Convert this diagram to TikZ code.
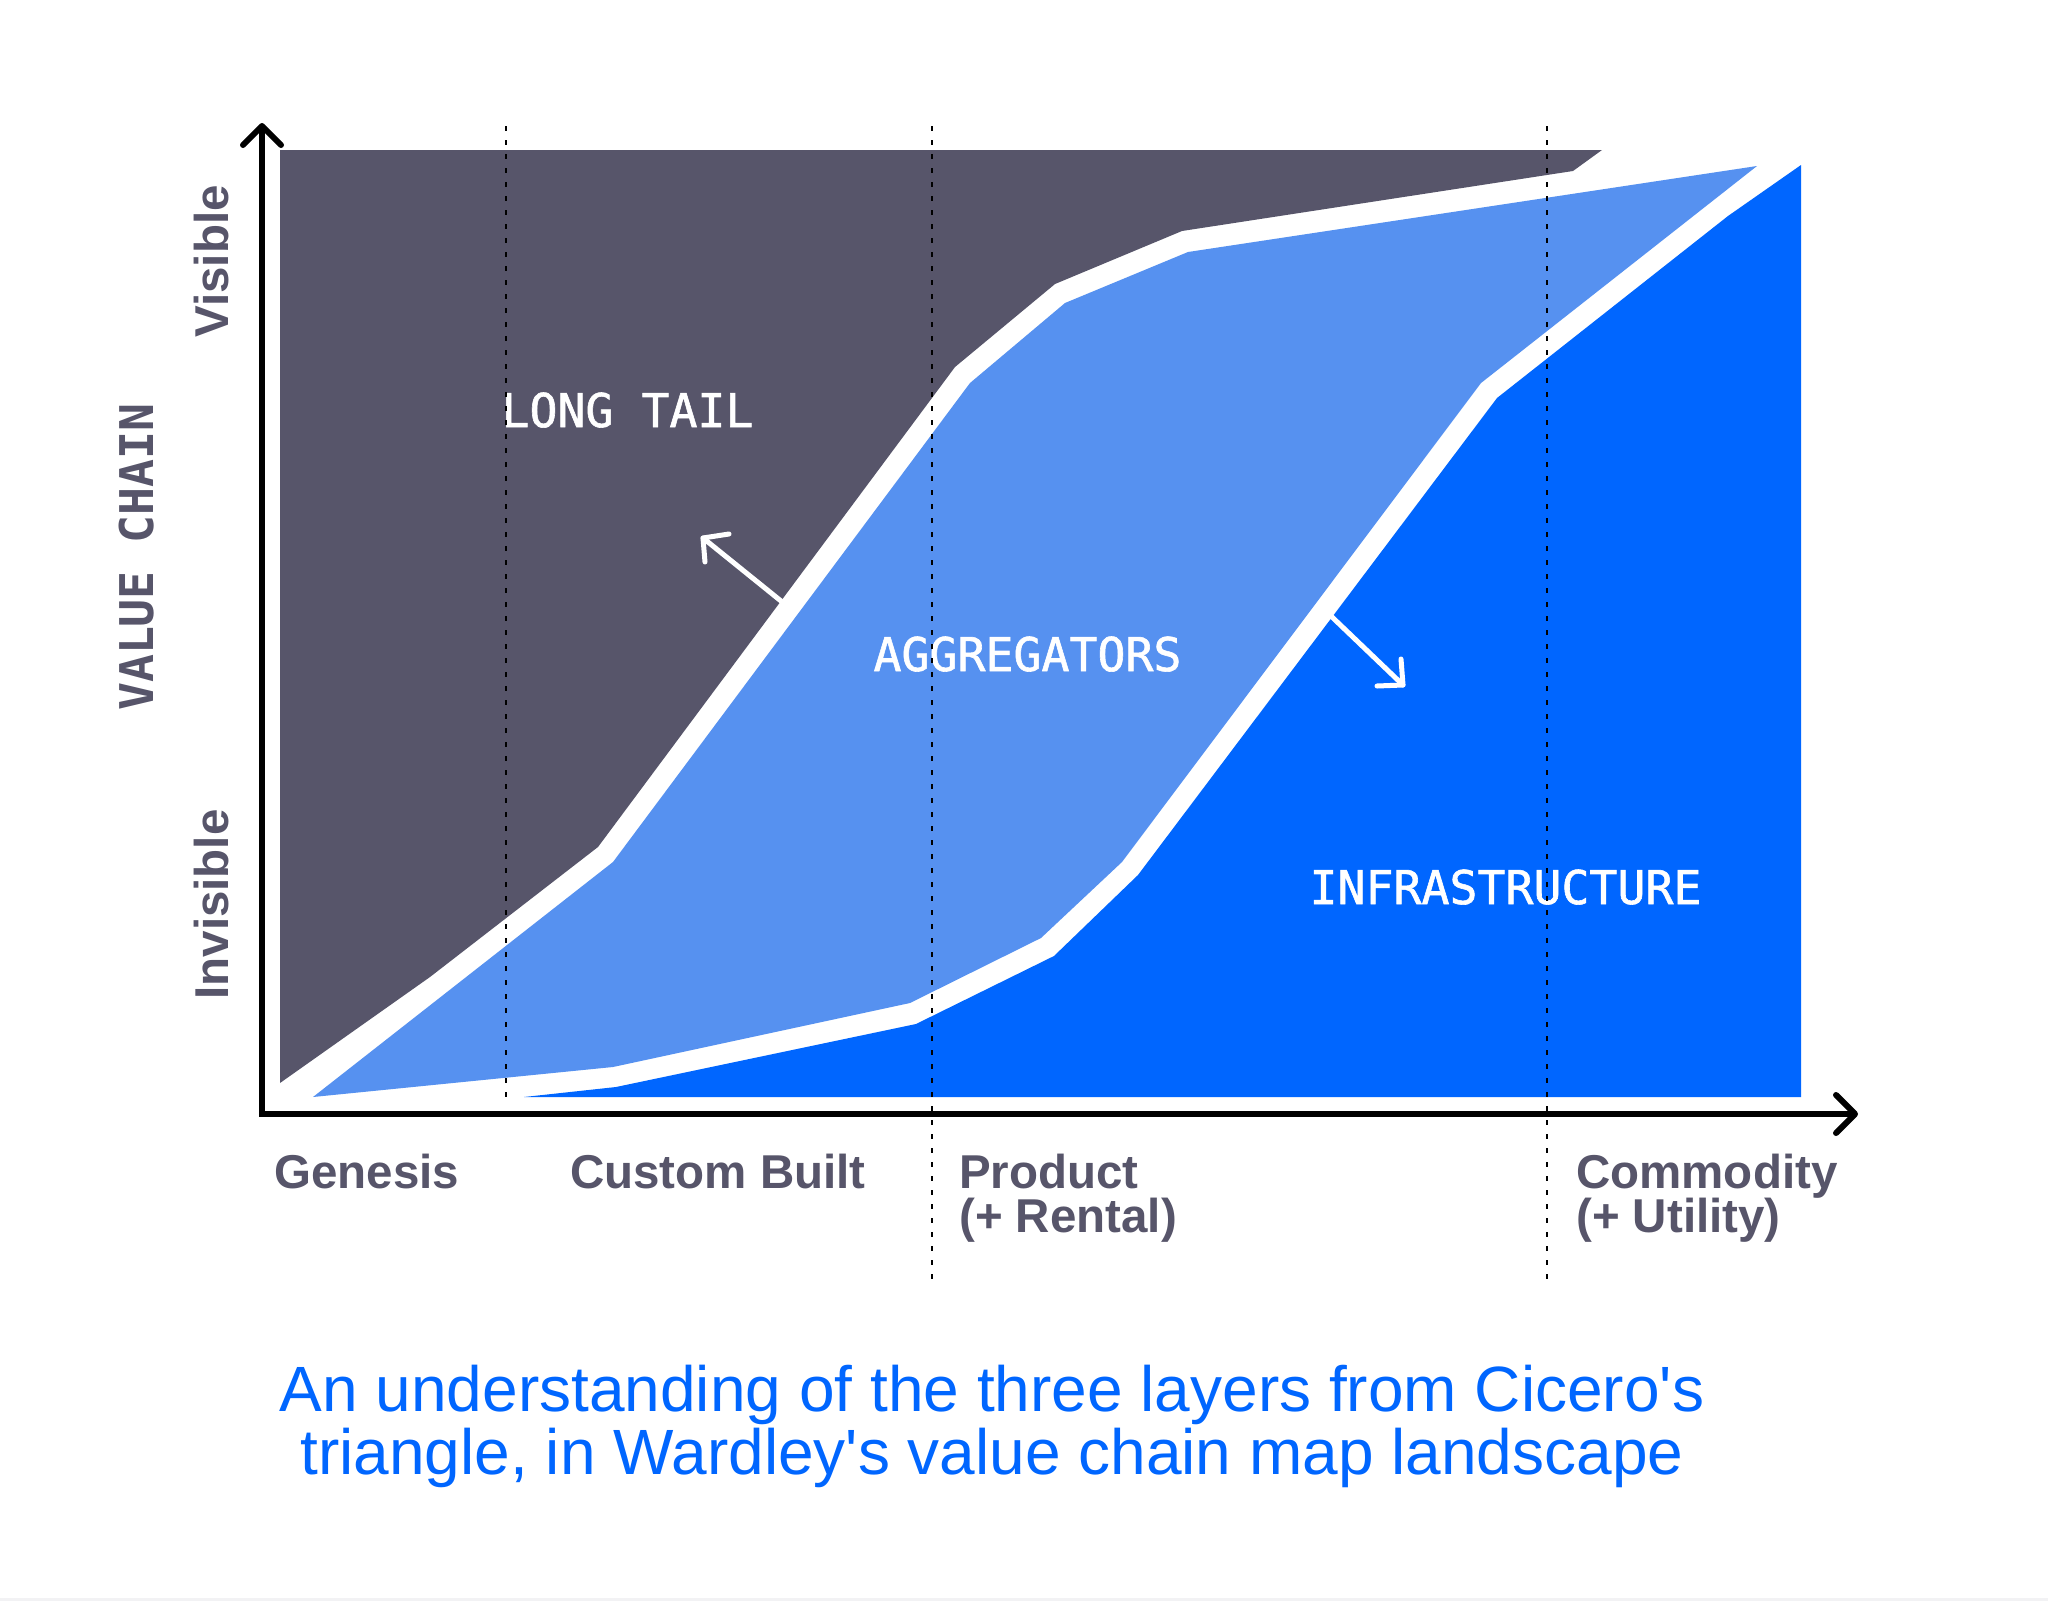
\documentclass[tikz,border=0pt]{standalone}
\usepackage{fontspec}
\newfontfamily\mylab{Liberation Sans}
\newfontfamily\mymono{DejaVu Sans Mono}
\newfontfamily\mymonomed{DejaVu Sans Mono}[FakeBold=1.3]
\newfontfamily\mycap{Liberation Sans}
\definecolor{tailgrey}{RGB}{87,85,106}
\definecolor{aggblue}{RGB}{86,145,240}
\definecolor{infblue}{RGB}{0,102,255}
\definecolor{labgrey}{RGB}{87,85,106}
\definecolor{capblue}{RGB}{0,102,255}
\definecolor{edgegrey}{RGB}{242,242,244}
\begin{document}
\begin{tikzpicture}[x=1pt,y=-1pt,
  axisline/.style={line width=6pt, black, line join=miter},
  axishead/.style={line width=6pt, black, line cap=round, line join=round},
  guide/.style={line width=2pt, black, dash pattern=on 5pt off 9pt},
  warrow/.style={line width=5pt, white, line cap=round, line join=round},
  xlab/.style={anchor=base west, inner sep=0pt, text=labgrey, font=\mylab\bfseries\fontsize{47.5}{47.5}\selectfont},
  ylab/.style={anchor=base, inner sep=0pt, rotate=90, text=labgrey, font=\mylab\bfseries\fontsize{47.5}{47.5}\selectfont},
  vclab/.style={anchor=base, inner sep=0pt, rotate=90, text=labgrey, font=\mymono\bfseries\fontsize{46.5}{46.5}\selectfont},
  region/.style={anchor=base, inner sep=0pt, text=white, font=\mymonomed\fontsize{46.5}{46.5}\selectfont},
  captext/.style={anchor=base, inner sep=0pt, text=capblue, font=\mycap\fontsize{64}{64}\selectfont}
]
\useasboundingbox (0,0) rectangle (2048,1601);
\fill[white] (0,0) rectangle (2048,1601);
\fill[edgegrey] (0,1598) rectangle (2048,1601);

% regions
\fill[tailgrey] (280,150) -- (1602,150) -- (1573,171) -- (1182,231) -- (1055,284)
  -- (955,367) -- (598,847) -- (430,977) -- (280,1083) -- cycle;
\fill[aggblue] (1757,166) -- (1481,383) -- (1122,862) -- (1041,938) -- (910,1003)
  -- (613,1067) -- (313,1097) -- (613,862) -- (970,383) -- (1065,303) -- (1188,252) -- cycle;
\fill[infblue] (1801,165) -- (1801,1097) -- (524,1097) -- (616,1087) -- (916,1024)
  -- (1054,956) -- (1138,875) -- (1497,398) -- (1728,216) -- cycle;

% region labels
\node[region] (longtail) at (627.5,427) {LONG TAIL};
\node[region] (aggr) at (1027.5,671) {AGGREGATORS};
\node[region] (infra) at (1505.5,904) {INFRASTRUCTURE};

% white arrows
\coordinate (s1) at (781,601);
\coordinate (t1) at (703,538);
\coordinate (a1) at (729,534);
\coordinate (b1) at (705,562);
\draw[warrow] (s1) -- (t1);
\draw[warrow] (a1) -- (t1) -- (b1);
\coordinate (s2) at (1332,617);
\coordinate (t2) at (1403,685);
\coordinate (a2) at (1401,659);
\coordinate (b2) at (1377,686);
\draw[warrow] (s2) -- (t2);
\draw[warrow] (a2) -- (t2) -- (b2);

% axes
\coordinate (origin) at (262,1114);
\coordinate (ytip) at (262,126);
\coordinate (xtip) at (1855,1114);
\draw[axisline] (ytip) -- (origin) -- (xtip);
\draw[axishead] (243,145) -- (ytip) -- (281,145);
\draw[axishead] (1836,1095) -- (xtip) -- (1836,1133);

% guide lines
\coordinate (g1t) at (506,126);
\coordinate (g1b) at (506,1103);
\coordinate (g2t) at (932,126);
\coordinate (g2b) at (932,1287);
\coordinate (g3t) at (1547,126);
\coordinate (g3b) at (1547,1287);
\draw[guide] (g1t) -- (g1b);
\draw[guide] (g2t) -- (g2b);
\draw[guide] (g3t) -- (g3b);

% axis labels
\node[ylab] (visible) at (228,261.5) {Visible};
\node[ylab] (invisible) at (228,904.5) {Invisible};
\node[vclab] (valuechain) at (153,557) {VALUE CHAIN};

\node[xlab] (genesis) at (274,1188) {Genesis};
\node[xlab] (custom) at (570,1188) {Custom Built};
\node[xlab] (product) at (959,1188) {Product};
\node[xlab] (rental) at (959,1232) {(+ Rental)};
\node[xlab] (commodity) at (1576,1188) {Commodity};
\node[xlab] (utility) at (1576,1232) {(+ Utility)};

% caption
\node[captext] (cap1) at (992,1411) {An understanding of the three layers from Cicero's};
\node[captext] (cap2) at (992,1474) {triangle, in Wardley's value chain map landscape};
\end{tikzpicture}
\end{document}
